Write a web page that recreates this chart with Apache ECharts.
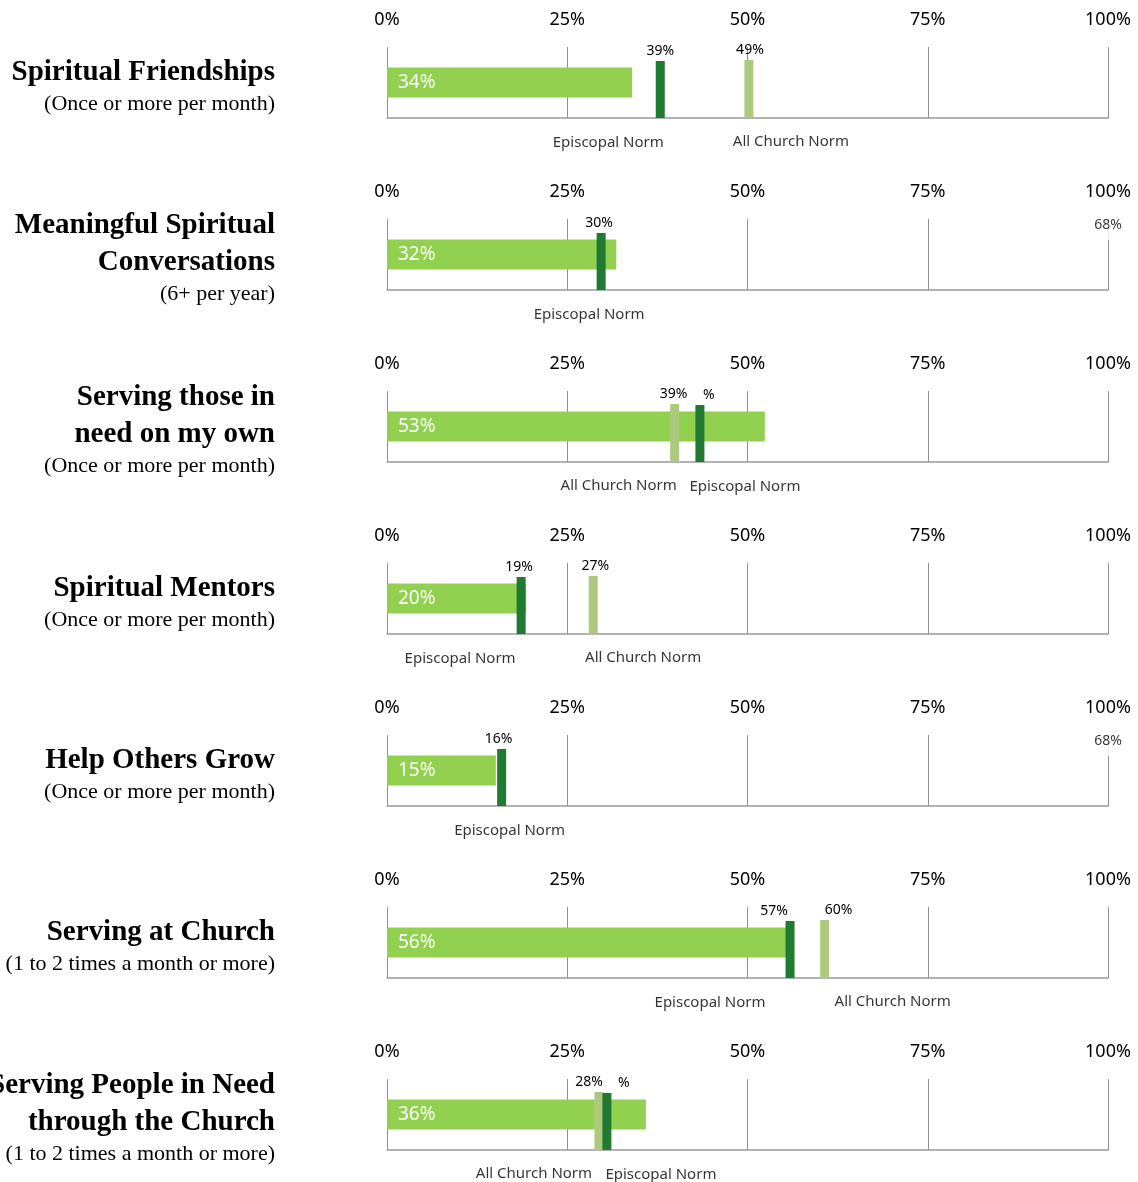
<!DOCTYPE html>
<html>
<head>
<meta charset="utf-8">
<title>Discipleship norms</title>
<script src="https://cdn.jsdelivr.net/npm/echarts@6/dist/echarts.min.js"></script>
<style>
    html, body { margin: 0; padding: 0; background: #fff; }
    #main { width: 1138px; height: 1182px; }
</style>
</head>
<body>
<div id="main"></div>
<script>
// 数据
var ticks = ['0%', '25%', '50%', '75%', '100%'];
var titles = [
    ['Spiritual Friendships'],
    ['Meaningful Spiritual', 'Conversations'],
    ['Serving those in', 'need on my own'],
    ['Spiritual Mentors'],
    ['Help Others Grow'],
    ['Serving at Church'],
    ['Serving People in Need', 'through the Church']
];
var subtitles = [
    '(Once or more per month)',
    '(6+ per year)',
    '(Once or more per month)',
    '(Once or more per month)',
    '(Once or more per month)',
    '(1 to 2 times a month or more)',
    '(1 to 2 times a month or more)'
];
var barValues = [34, 31.8, 52.4, 19.3, 15.1, 55.9, 35.9];
var barLabels = ['34%', '32%', '53%', '20%', '15%', '56%', '36%'];
var epValues = [37.9, 29.7, 43.4, 18.6, 15.9, 55.9, 30.5];
var epLabels = ['39%', '30%', '%', '19%', '16%', '57%', '%'];
var acValues = [50.2, null, 39.9, 28.6, null, 60.7, 29.4];
var acLabels = ['49%', '', '39%', '27%', '', '60%', '28%'];
var extraLabels = ['', '68%', '', '', '68%', '', ''];

// 布局（标签偏移）
var epLabelDx = [0, -2, 9, -2, -3, -16, 17];
var acLabelDx = [1, 0, -1, 2, 0, 14, -10];
var epNormDx = [-52, -12, 45, -61, 8, -80, 54];
var acNormDx = [42, 0, -56, 50, 0, 68, -65];

var panelH = 172;
var gridLeft = 387, gridW = 721, gridTop = 47, gridH = 71;
var textFont = '"Noto Sans", "Open Sans", sans-serif';
var serif = '"Liberation Serif", "DejaVu Serif", serif';

function buildOption() {
    var grids = [], xAxes = [], yAxes = [], series = [], graphics = [];
    for (var i = 0; i < barValues.length; i++) {
        var y0 = i * panelH;
        grids.push({ left: gridLeft, width: gridW, top: y0 + gridTop, height: gridH });
        // 上方刻度
        xAxes.push({
            gridIndex: i, type: 'value', position: 'top', min: 0, max: 100, interval: 25,
            axisLine: { show: false }, axisTick: { show: false },
            axisLabel: {
                margin: 18, color: '#000', fontSize: 18, fontFamily: textFont,
                formatter: function (v) { return ticks[Math.round(v / 25)]; }
            },
            splitLine: { show: true, lineStyle: { color: '#8f8f8f', width: 1 } }
        });
        // 下方轴线
        xAxes.push({
            gridIndex: i, type: 'value', position: 'bottom', min: 0, max: 100, interval: 25,
            axisLine: { show: true, lineStyle: { color: '#9a9a9a', width: 1.5 } },
            axisTick: { show: false }, axisLabel: { show: false }, splitLine: { show: false }
        });
        yAxes.push({
            gridIndex: i, type: 'category', data: [''],
            axisLine: { show: false }, axisTick: { show: false }, axisLabel: { show: false }
        });
        var xi = i * 2 + 1;
        series.push({
            type: 'bar', xAxisIndex: xi, yAxisIndex: i, barWidth: 30,
            itemStyle: { color: '#92D050' },
            label: {
                show: true, position: 'insideLeft', distance: 11, color: '#fff',
                fontSize: 19, fontFamily: textFont,
                formatter: barLabels[i]
            },
            data: [barValues[i]],
            silent: true
        });
        if (extraLabels[i]) {
            series.push({
                type: 'scatter', xAxisIndex: xi, yAxisIndex: i, symbolSize: 0, z: 5,
                label: {
                    show: true, position: 'inside', offset: [0, -29], formatter: extraLabels[i],
                    color: '#000', fontSize: 14, fontFamily: textFont,
                    backgroundColor: '#fff', padding: [3, 4, 12, 4]
                },
                data: [[100, 0]]
            });
        }
        if (acValues[i] !== null) {
            series.push({
                type: 'scatter', xAxisIndex: xi, yAxisIndex: i, z: 4,
                symbol: 'rect', symbolSize: [9, 58], symbolOffset: [0, 6.5],
                itemStyle: { color: '#ADC97E', opacity: 1 },
                label: {
                    show: true, position: 'top', distance: 3, offset: [acLabelDx[i], 0],
                    formatter: acLabels[i], color: '#000', fontSize: 14, fontFamily: textFont
                },
                data: [[acValues[i], 0]]
            });
            series.push({
                type: 'scatter', xAxisIndex: xi, yAxisIndex: i, symbolSize: 0,
                label: {
                    show: true, position: 'inside', offset: [acNormDx[i], 59],
                    formatter: 'All Church Norm', color: '#000', fontSize: 15, fontFamily: textFont
                },
                data: [[acValues[i], 0]]
            });
        }
        series.push({
            type: 'scatter', xAxisIndex: xi, yAxisIndex: i, z: 4,
            symbol: 'rect', symbolSize: [9, 57], symbolOffset: [0, 7],
            itemStyle: { color: '#217A32', opacity: 1 },
            label: {
                show: true, position: 'top', distance: 3, offset: [epLabelDx[i], 0],
                formatter: epLabels[i], color: '#000', fontSize: 14, fontFamily: textFont
            },
            data: [[epValues[i], 0]]
        });
        series.push({
            type: 'scatter', xAxisIndex: xi, yAxisIndex: i, symbolSize: 0,
            label: {
                show: true, position: 'inside', offset: [epNormDx[i], 60],
                formatter: 'Episcopal Norm', color: '#000', fontSize: 15, fontFamily: textFont
            },
            data: [[epValues[i], 0]]
        });

        // 左侧标题
        var lines = titles[i];
        var firstY = lines.length === 1 ? y0 + 73 : y0 + 54;
        for (var k = 0; k < lines.length; k++) {
            graphics.push({
                type: 'text', x: 275, y: firstY + k * 37,
                style: {
                    text: lines[k], textAlign: 'right', textVerticalAlign: 'middle',
                    font: 'bold 29px ' + serif, fill: '#000'
                }
            });
        }
        graphics.push({
            type: 'text', x: 275, y: firstY + (lines.length - 1) * 37 + 31,
            style: {
                text: subtitles[i], textAlign: 'right', textVerticalAlign: 'middle',
                font: '22px ' + serif, fill: '#000'
            }
        });
    }
    return {
        animation: false,
        backgroundColor: '#fff',
        grid: grids, xAxis: xAxes, yAxis: yAxes, series: series, graphic: graphics
    };
}

var myChart = echarts.init(document.getElementById('main'));
myChart.setOption(buildOption(), true);
</script>
</body>
</html>
